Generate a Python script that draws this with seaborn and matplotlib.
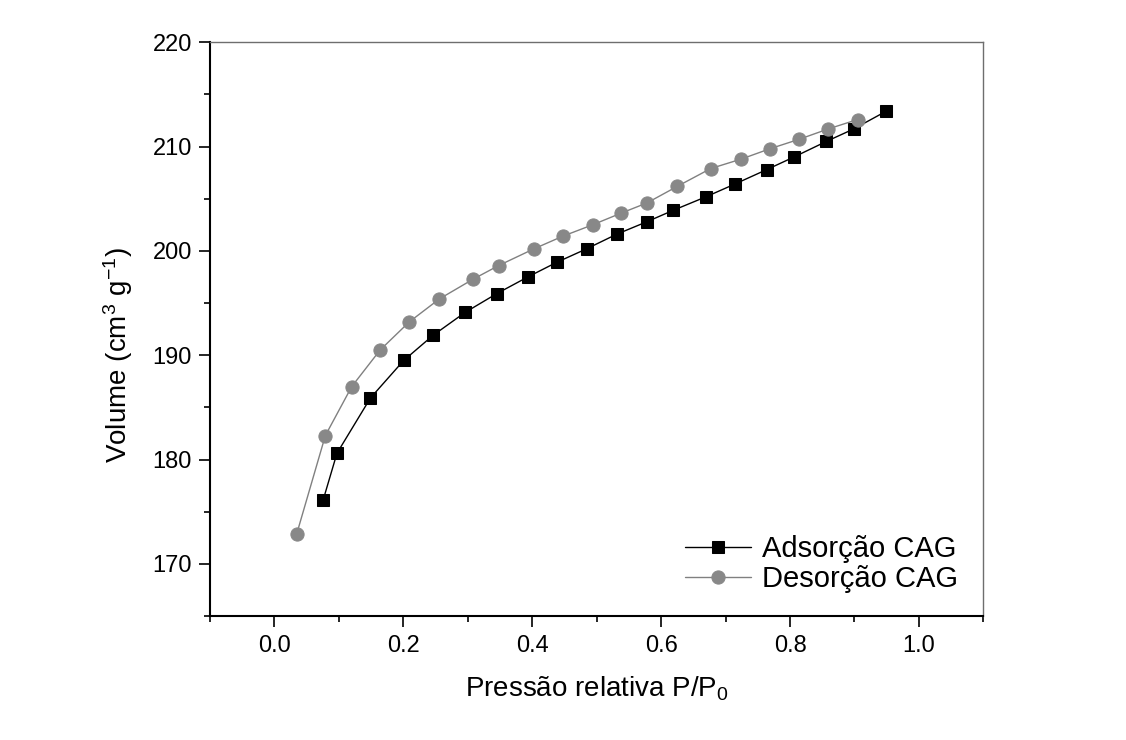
import matplotlib
matplotlib.use("Agg")
import matplotlib.pyplot as plt
from matplotlib.ticker import MultipleLocator
import seaborn as sns
import pandas as pd

ads_x = [0.0755, 0.097, 0.149, 0.2006, 0.246, 0.2957, 0.3448, 0.393, 0.4378, 0.4843,
         0.531, 0.578, 0.619, 0.670, 0.714, 0.764, 0.806, 0.8565, 0.899, 0.9494]
ads_y = [176.1, 180.6, 185.9, 189.5, 191.9, 194.1, 195.9, 197.5, 198.9, 200.2,
         201.6, 202.8, 203.9, 205.2, 206.4, 207.8, 209.0, 210.5, 211.7, 213.4]
des_x = [0.0347, 0.079, 0.120, 0.164, 0.2093, 0.256, 0.3085, 0.348, 0.4026, 0.447,
         0.4936, 0.537, 0.578, 0.6254, 0.677, 0.724, 0.769, 0.814, 0.8595, 0.905]
des_y = [172.9, 182.3, 187.0, 190.5, 193.2, 195.4, 197.3, 198.6, 200.2, 201.4,
         202.5, 203.6, 204.6, 206.2, 207.9, 208.8, 209.8, 210.7, 211.7, 212.6]
labels = ["Adsorção CAG", "Desorção CAG"]
xtick_vals = [0.0, 0.2, 0.4, 0.6, 0.8, 1.0]
xtick_labels = ["0.0", "0.2", "0.4", "0.6", "0.8", "1.0"]
ytick_vals = [170, 180, 190, 200, 210, 220]
ytick_labels = ["170", "180", "190", "200", "210", "220"]

sns.set_style("ticks")
plt.rcParams["font.family"] = ["Liberation Sans", "DejaVu Sans"]
plt.rcParams["mathtext.fontset"] = "custom"
plt.rcParams["mathtext.rm"] = "Liberation Sans"
plt.rcParams["mathtext.it"] = "Liberation Sans"
plt.rcParams["text.color"] = "black"
plt.rcParams["axes.labelcolor"] = "black"
plt.rcParams["xtick.color"] = "black"
plt.rcParams["ytick.color"] = "black"

fig = plt.figure(figsize=(11.26, 7.4), dpi=100)
ax = fig.add_axes([0.1865, 0.1676, 0.8733 - 0.1865, 0.9428 - 0.1676])

df_a = pd.DataFrame({"x": ads_x, "y": ads_y})
df_d = pd.DataFrame({"x": des_x, "y": des_y})
sns.lineplot(data=df_a, x="x", y="y", ax=ax, color="black", lw=1.0, marker="s",
             markersize=8, markeredgecolor="black", markerfacecolor="black",
             label=labels[0], sort=False, estimator=None)
sns.lineplot(data=df_d, x="x", y="y", ax=ax, color="#808080", lw=1.0, marker="o",
             markersize=9.5, markeredgecolor="#888888", markerfacecolor="#888888",
             label=labels[1], sort=False, estimator=None)

ax.set_xlim(-0.1, 1.1)
ax.set_ylim(165, 220)
ax.xaxis.set_minor_locator(MultipleLocator(0.1))
ax.yaxis.set_minor_locator(MultipleLocator(5))
ax.set_xticks(xtick_vals)
ax.set_xticklabels(xtick_labels)
ax.set_yticks(ytick_vals)
ax.set_yticklabels(ytick_labels)

ax.tick_params(axis="both", which="major", direction="out", length=8, width=1.2,
               labelsize=17, colors="black", top=False, right=False)
ax.tick_params(axis="both", which="minor", direction="out", length=4.5, width=1.2,
               colors="black", top=False, right=False)
ax.tick_params(axis="x", which="major", pad=6)
ax.tick_params(axis="y", which="major", pad=5)

for s in ["left", "bottom"]:
    ax.spines[s].set_linewidth(1.5)
    ax.spines[s].set_color("black")
for s in ["top", "right"]:
    ax.spines[s].set_linewidth(1.0)
    ax.spines[s].set_color("#6e6e6e")
    ax.spines[s].set_visible(True)

ax.set_xlabel("Pressão relativa P/P$_0$", fontsize=20, labelpad=12, color="black")
ax.set_ylabel("Volume (cm$^3$ g$^{-1}$)", fontsize=20, color="black")
ax.yaxis.set_label_coords(-0.097, 0.455)

leg = ax.legend(loc="lower right", bbox_to_anchor=(0.99, 0.01), frameon=False,
                fontsize=21, handlelength=2.25, handletextpad=0.38, labelspacing=0.05,
                borderaxespad=0.2)
for t in leg.get_texts():
    t.set_color("black")

fig.savefig("out.png", dpi=100, facecolor="white")
